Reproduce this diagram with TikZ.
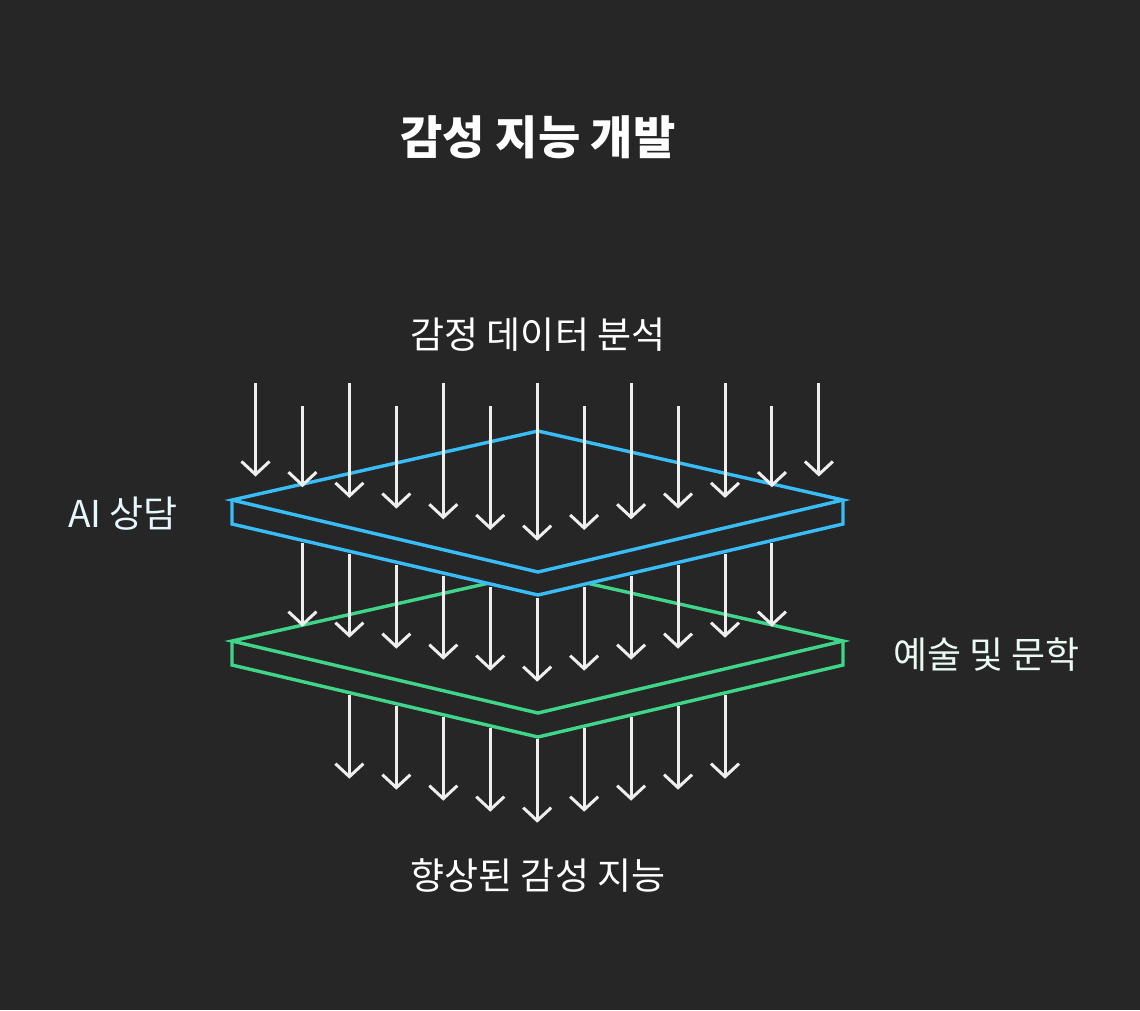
\documentclass[tikz,border=0pt]{standalone}
\usepackage{fontspec}
\setmainfont{Noto Sans CJK KR}
\usetikzlibrary{arrows.meta}
\definecolor{bg}{HTML}{262626}
\definecolor{bluep}{HTML}{38BDF8}
\definecolor{greenp}{HTML}{3FD68A}
\definecolor{arr}{HTML}{EEEEEE}
\begin{document}
\begin{tikzpicture}[x=1pt,y=-1pt,
  plate/.style={line width=3.4pt,line join=miter},
  flow/.style={arr,line width=3pt,-{Straight Barb[length=13pt,width=28pt,line width=3pt]}},
  lbl/.style={text=white,font=\fontsize{37}{42}\selectfont,inner sep=0pt}]
\fill[bg] (0,0) rectangle (1140,1010);
\useasboundingbox (0,0) rectangle (1140,1010);
\node[text=white,font=\fontsize{46}{50}\selectfont\bfseries,inner sep=0] (title) at (538,137) {감성 지능 개발};
% green plate
\draw[plate,greenp] (232,641) -- (538,572) -- (843,641) -- (538,713) -- cycle;
\draw[plate,greenp] (232,641) -- (232,665) -- (538,737) -- (843,665) -- (843,641);
% blue plate (occludes)
\fill[bg] (232,500) -- (538,431) -- (843,500) -- (843,524) -- (538,595) -- (232,524) -- cycle;
\draw[plate,bluep] (232,500) -- (538,431) -- (843,500) -- (538,572) -- cycle;
\draw[plate,bluep] (232,500) -- (232,524) -- (538,595) -- (843,524) -- (843,500);
% arrows
\foreach \i in {0,...,12}{
  \pgfmathsetmacro\xx{255.5+46.95*\i}
  \pgfmathsetmacro\d{abs(\i-6)}
  \pgfmathsetmacro\ys{ifthenelse(mod(\i,2)==0,383,406)}
  \pgfmathsetmacro\yt{540.7-10.7*\d}
  \draw[flow] (\xx,\ys) -- (\xx,\yt);
}
\foreach \i in {1,...,11}{
  \pgfmathsetmacro\xx{255.5+46.95*\i}
  \pgfmathsetmacro\d{abs(\i-6)}
  \draw[flow] (\xx,{598-11*\d}) -- (\xx,{681.7-11*\d});
}
\foreach \i in {2,...,10}{
  \pgfmathsetmacro\xx{255.5+46.95*\i}
  \pgfmathsetmacro\d{abs(\i-6)}
  \draw[flow] (\xx,{739-11*\d}) -- (\xx,{822.7-11*\d});
}
\node[lbl] (top) at (538,335) {감정 데이터 분석};
\node[lbl] (bot) at (538,875) {향상된 감성 지능};
\node[lbl,anchor=west,text=bluep!12!white] (ai) at (68,514) {AI 상담};
\node[lbl,anchor=west,text=greenp!12!white] (art) at (893,655) {예술 및 문학};
\end{tikzpicture}
\end{document}
